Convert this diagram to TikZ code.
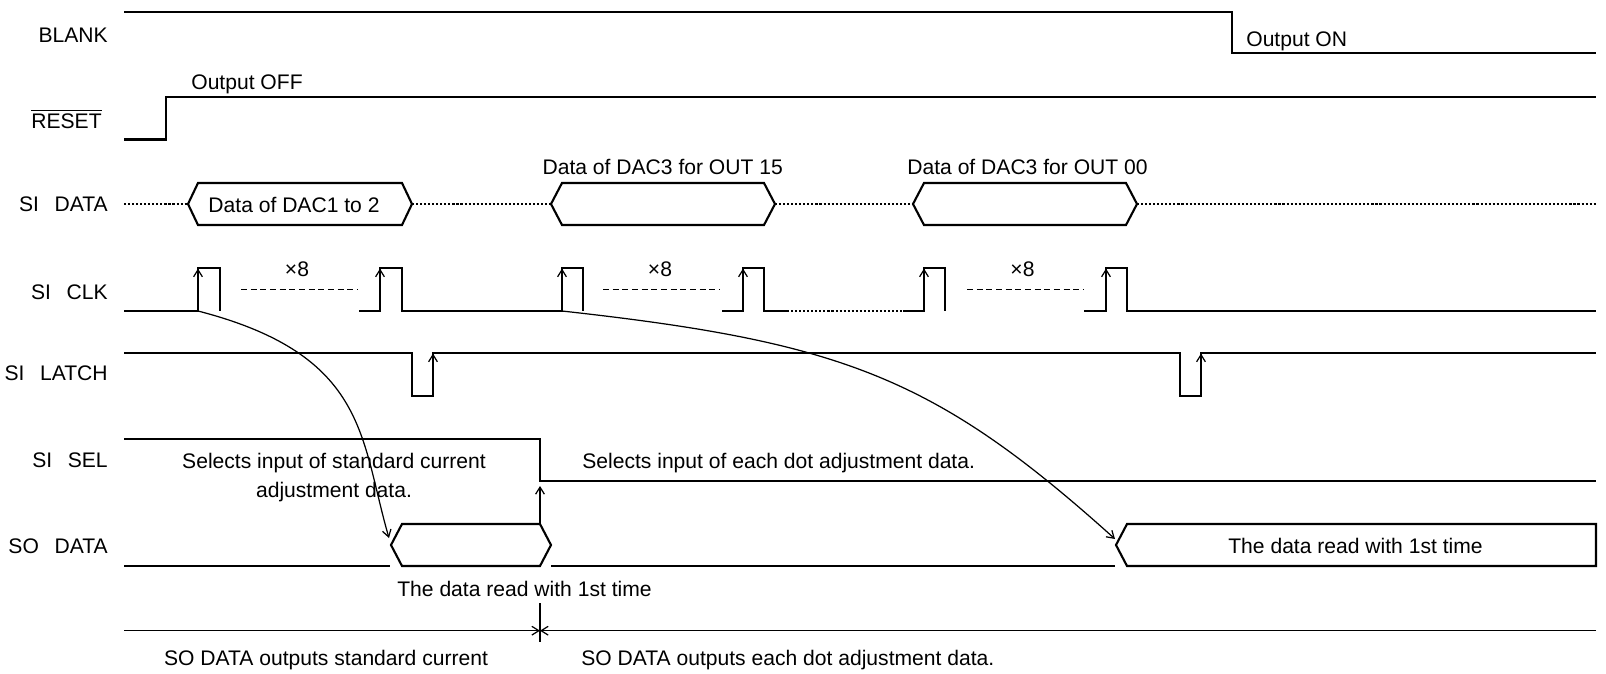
\documentclass[tikz,border=0pt]{standalone}
\usepackage{fontspec}
\setmainfont{Liberation Sans}
\usetikzlibrary{arrows.meta}
\newcommand{\sigsp}{\hspace{0.74em}}

\begin{document}
\begin{tikzpicture}[x=0.02cm, y=-0.02cm,
  >={Straight Barb[length=4pt,width=5pt]},
  every node/.style={font=\fontsize{12pt}{14pt}\selectfont, inner sep=0pt},
  wave/.style={line width=1.2pt, line join=miter},
  busdots/.style={line width=1.2pt, dash pattern=on 1.2pt off 1.1pt},
  gapdash/.style={line width=0.6pt, dash pattern=on 3.5pt off 2pt},
  link/.style={line width=0.7pt, ->},
  clkedge/.style={line width=0.7pt, ->},
  siglabel/.style={anchor=base east}]

\useasboundingbox (0,0) rectangle (1606,673);

% Signal names
\node[siglabel] (lblank) at (108,42) {BLANK};
\node[siglabel] (lreset) at (102,128) {$\overline{\hbox{RESET}}$};
\node[siglabel] (lsidata) at (108,211.5) {SI\sigsp DATA};
\node[siglabel] (lsiclk) at (108,299) {SI\sigsp CLK};
\node[siglabel] (lsilatch) at (108,380) {SI\sigsp LATCH};
\node[siglabel] (lsisel) at (108,467) {SI\sigsp SEL};
\node[siglabel] (lsodata) at (108,553) {SO\sigsp DATA};

% BLANK
\draw[wave] (124,12.3) -- (1232,12.3) -- (1232,53.3) -- (1596,53.3);
\node[anchor=base west] (outon) at (1246,46.5) {Output ON};

% RESET
\draw[wave] (124,139.5) -- (166,139.5) -- (166,97) -- (1596,97);
\node[anchor=base west] (outoff) at (191,89.3) {Output OFF};

% SI DATA
\draw[busdots] (124,204) -- (188,204);
\draw[wave] (188,204) -- (198,183) -- (402,183) -- (412,204) -- (402,225) -- (198,225) -- cycle;
\draw[busdots] (412,204) -- (551,204);
\draw[wave] (551,204) -- (562,183) -- (764,183) -- (775,204) -- (764,225) -- (562,225) -- cycle;
\draw[busdots] (775,204) -- (913,204);
\draw[wave] (913,204) -- (924,183) -- (1126,183) -- (1137,204) -- (1126,225) -- (924,225) -- cycle;
\draw[busdots] (1137,204) -- (1596,204);
\node[anchor=base] (dac12) at (294,212.3) {Data of DAC1 to 2};
\node[anchor=base] (dac15) at (662.7,174) {Data of DAC3 for OUT 15};
\node[anchor=base] (dac00) at (1027.5,174) {Data of DAC3 for OUT 00};

% SI CLK
\draw[wave] (124,311) -- (198,311) -- (198,268) -- (220,268) -- (220,311);
\draw[gapdash] (241,289.5) -- (358,289.5);
\draw[wave] (359,311) -- (380,311) -- (380,268) -- (402,268) -- (402,311) -- (562,311) -- (562,268) -- (583,268) -- (583,311);
\draw[gapdash] (603,289.5) -- (720,289.5);
\draw[wave] (722,311) -- (743,311) -- (743,268) -- (764,268) -- (764,311) -- (787,311);
\draw[busdots] (787,311) -- (903,311);
\draw[wave] (903,311) -- (924,311) -- (924,268) -- (945,268) -- (945,311);
\draw[gapdash] (967,289.5) -- (1083,289.5);
\draw[wave] (1084,311) -- (1106,311) -- (1106,268) -- (1127,268) -- (1127,311) -- (1596,311);
\foreach \x in {198,380,562,743,924,1106}
  \draw[clkedge] (\x,296) -- (\x,268.6);
\node[anchor=base] (rep1) at (297,276) {×8};
\node[anchor=base] (rep2) at (660,276) {×8};
\node[anchor=base] (rep3) at (1022.5,276) {×8};

% SI LATCH
\draw[wave] (124,353) -- (412,353) -- (412,396) -- (433,396) -- (433,353) -- (1180,353) -- (1180,396) -- (1201,396) -- (1201,353) -- (1596,353);
\draw[clkedge] (433,381) -- (433,353.6);
\draw[clkedge] (1201,381) -- (1201,353.6);

% SI SEL
\draw[wave] (124,439) -- (540,439) -- (540,481) -- (1596,481);
\node[anchor=base] (selstd1) at (334,468) {Selects input of standard current};
\node[anchor=base] (selstd2) at (334,497) {adjustment data.};
\node[anchor=base west] (seldot) at (582,468) {Selects input of each dot adjustment data.};

% SO DATA
\draw[wave] (124,566) -- (390,566);
\draw[wave] (391,545) -- (402,524) -- (540,524) -- (551,545) -- (540,566) -- (402,566) -- cycle;
\draw[wave] (551,566) -- (1115,566);
\draw[wave] (1596,524) -- (1127,524) -- (1116,545) -- (1127,566) -- (1596,566) -- cycle;
\node[anchor=base] (read2) at (1355.5,553.3) {The data read with 1st time};
\node[anchor=base] (read1) at (524.5,596) {The data read with 1st time};

% Read arrows
\coordinate (clkA) at (198,311);
\coordinate (soA) at (389,538);
\draw[link] (clkA) .. controls (368,355) and (360,438) .. (soA);
\coordinate (clkB) at (562,311);
\coordinate (soB) at (1115,539);
\draw[link] (clkB) .. controls (842,342) and (935,377) .. (soB);
\coordinate (sotop) at (540,524);
\coordinate (selfall) at (540,486);
\draw[link] (sotop) -- (selfall);

% Output phases
\coordinate (tickup) at (540,603);
\coordinate (tickdn) at (540,642);
\coordinate (phl) at (124,630.7);
\coordinate (phr) at (1596,630.7);
\coordinate (phm) at (540,630.7);
\draw[line width=0.8pt] (tickup) -- (tickdn);
\draw[link] (phl) -- (phm);
\draw[link] (phr) -- (phm);
\node[anchor=base] (outstd) at (326,665.5) {SO DATA outputs standard current};
\node[anchor=base west] (outdot) at (581,665.5) {SO DATA outputs each dot adjustment data.};
\end{tikzpicture}
\end{document}
